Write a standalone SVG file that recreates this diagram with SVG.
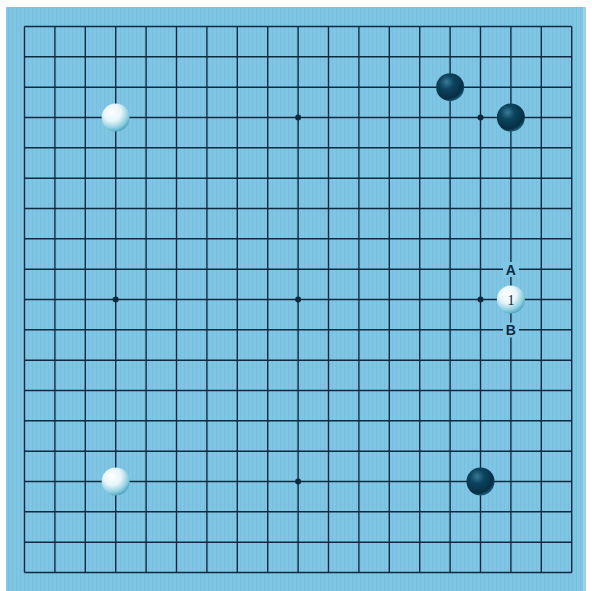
<svg xmlns="http://www.w3.org/2000/svg" width="592" height="591" viewBox="0 0 592 591">
<defs>
<radialGradient id="gw" cx="0.38" cy="0.32" r="0.7">
<stop offset="0" stop-color="#ffffff"/>
<stop offset="0.45" stop-color="#e6f5fa"/>
<stop offset="0.8" stop-color="#8fcfe0"/>
<stop offset="1" stop-color="#4fa6c0"/>
</radialGradient>
<radialGradient id="gb" cx="0.38" cy="0.32" r="0.7">
<stop offset="0" stop-color="#3a7a95"/>
<stop offset="0.35" stop-color="#0d4560"/>
<stop offset="0.85" stop-color="#062e44"/>
<stop offset="1" stop-color="#1a5f7a"/>
</radialGradient>
<pattern id="wood" width="4" height="10" patternUnits="userSpaceOnUse">
<rect width="4" height="10" fill="#80c6e4"/>
<rect width="1" height="10" fill="#78bfdd"/>
</pattern>
</defs>
<style>
.grid line{stroke:#0e2a40;stroke-width:1.4}
.star{fill:#0e2a40}
.w{fill:url(#gw)}
.b{fill:url(#gb)}
.lbl{font-family:"Liberation Sans",Arial,sans-serif;font-weight:bold;font-size:14px;fill:#0e2a40;text-anchor:middle}
.num{font-family:"Liberation Serif",serif;font-size:14px;fill:#0a1f30;text-anchor:middle}
</style>
<rect x="0" y="0" width="592" height="591" fill="#ffffff"/>
<rect x="6" y="7" width="580" height="584" fill="url(#wood)"/>
<rect x="583" y="7" width="3" height="584" fill="#9ad2ea"/>
<g id="grid" class="grid">
<line x1="24.5" y1="26.5" x2="24.5" y2="572.5"/>
<line x1="54.9" y1="26.5" x2="54.9" y2="572.5"/>
<line x1="85.3" y1="26.5" x2="85.3" y2="572.5"/>
<line x1="115.7" y1="26.5" x2="115.7" y2="572.5"/>
<line x1="146.1" y1="26.5" x2="146.1" y2="572.5"/>
<line x1="176.5" y1="26.5" x2="176.5" y2="572.5"/>
<line x1="206.9" y1="26.5" x2="206.9" y2="572.5"/>
<line x1="237.3" y1="26.5" x2="237.3" y2="572.5"/>
<line x1="267.7" y1="26.5" x2="267.7" y2="572.5"/>
<line x1="298.1" y1="26.5" x2="298.1" y2="572.5"/>
<line x1="328.5" y1="26.5" x2="328.5" y2="572.5"/>
<line x1="358.9" y1="26.5" x2="358.9" y2="572.5"/>
<line x1="389.3" y1="26.5" x2="389.3" y2="572.5"/>
<line x1="419.7" y1="26.5" x2="419.7" y2="572.5"/>
<line x1="450.1" y1="26.5" x2="450.1" y2="572.5"/>
<line x1="480.5" y1="26.5" x2="480.5" y2="572.5"/>
<line x1="510.9" y1="26.5" x2="510.9" y2="572.5"/>
<line x1="541.3" y1="26.5" x2="541.3" y2="572.5"/>
<line x1="571.7" y1="26.5" x2="571.7" y2="572.5"/>
<line x1="24.5" y1="26.5" x2="571.7" y2="26.5"/>
<line x1="24.5" y1="56.8" x2="571.7" y2="56.8"/>
<line x1="24.5" y1="87.2" x2="571.7" y2="87.2"/>
<line x1="24.5" y1="117.5" x2="571.7" y2="117.5"/>
<line x1="24.5" y1="147.8" x2="571.7" y2="147.8"/>
<line x1="24.5" y1="178.2" x2="571.7" y2="178.2"/>
<line x1="24.5" y1="208.5" x2="571.7" y2="208.5"/>
<line x1="24.5" y1="238.8" x2="571.7" y2="238.8"/>
<line x1="24.5" y1="269.2" x2="571.7" y2="269.2"/>
<line x1="24.5" y1="299.5" x2="571.7" y2="299.5"/>
<line x1="24.5" y1="329.8" x2="571.7" y2="329.8"/>
<line x1="24.5" y1="360.2" x2="571.7" y2="360.2"/>
<line x1="24.5" y1="390.5" x2="571.7" y2="390.5"/>
<line x1="24.5" y1="420.8" x2="571.7" y2="420.8"/>
<line x1="24.5" y1="451.2" x2="571.7" y2="451.2"/>
<line x1="24.5" y1="481.5" x2="571.7" y2="481.5"/>
<line x1="24.5" y1="511.8" x2="571.7" y2="511.8"/>
<line x1="24.5" y1="542.2" x2="571.7" y2="542.2"/>
<line x1="24.5" y1="572.5" x2="571.7" y2="572.5"/>
</g>
<g id="stars">
<circle class="star" cx="115.7" cy="117.5" r="3"/>
<circle class="star" cx="298.1" cy="117.5" r="3"/>
<circle class="star" cx="480.5" cy="117.5" r="3"/>
<circle class="star" cx="115.7" cy="299.5" r="3"/>
<circle class="star" cx="298.1" cy="299.5" r="3"/>
<circle class="star" cx="480.5" cy="299.5" r="3"/>
<circle class="star" cx="115.7" cy="481.5" r="3"/>
<circle class="star" cx="298.1" cy="481.5" r="3"/>
<circle class="star" cx="480.5" cy="481.5" r="3"/>
</g>
<g id="stone-w-d16"><circle class="w" cx="115.7" cy="117.5" r="14"/></g>
<g id="stone-w-d4"><circle class="w" cx="115.7" cy="481.5" r="14"/></g>
<g id="stone-b-p17"><circle class="b" cx="450.1" cy="87.2" r="14"/></g>
<g id="stone-b-r16"><circle class="b" cx="510.9" cy="117.5" r="14"/></g>
<g id="stone-b-q4"><circle class="b" cx="480.5" cy="481.5" r="14"/></g>
<g id="stone-w-1">
<circle class="w" cx="510.9" cy="299.5" r="14"/>
<text class="num" x="510.9" y="304.5">1</text>
</g>
<g id="label-A">
<rect x="503" y="262" width="16" height="15" fill="#80c6e4"/>
<text class="lbl" x="510.9" y="274.5">A</text>
</g>
<g id="label-B">
<rect x="503" y="322.5" width="16" height="15" fill="#80c6e4"/>
<text class="lbl" x="510.9" y="335">B</text>
</g>
</svg>
